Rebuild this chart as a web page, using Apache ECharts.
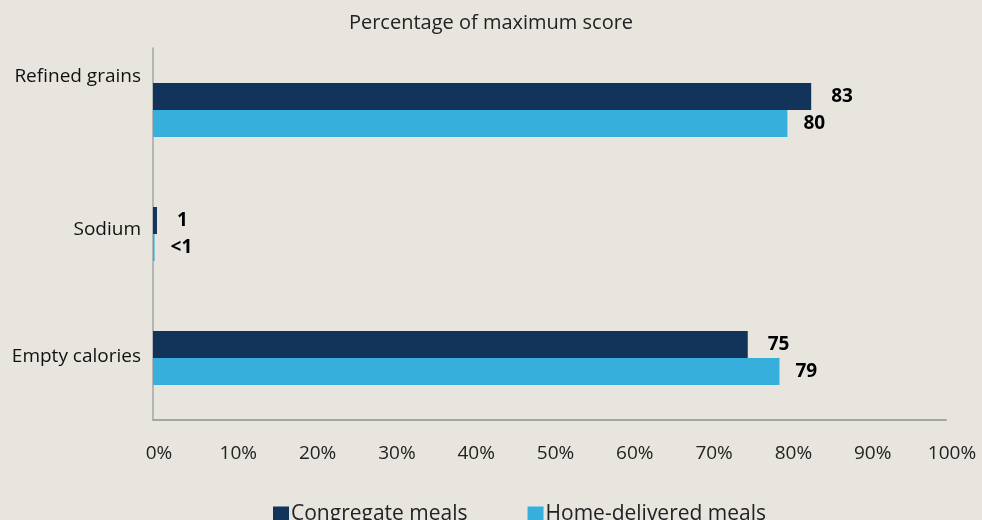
<!DOCTYPE html>
<html>
<head>
<meta charset="utf-8">
<script src="https://cdn.jsdelivr.net/npm/echarts@6/dist/echarts.min.js"></script>
<style>
html,body{margin:0;padding:0;background:#e8e5df;}
#chart{width:982px;height:520px;}
</style>
</head>
<body>
<div id="chart"></div>
<script>
var categories = ['Refined grains', 'Sodium', 'Empty calories'];
var congregate = [83, 0.5, 75];
var homeDelivered = [80, 0.2, 79];
var congregateLabels = ['83', '1', '75'];
var homeLabels = ['80', '<1', '79'];
var xTicks = [0, 10, 20, 30, 40, 50, 60, 70, 80, 90, 100];

var myChart = echarts.init(document.getElementById('chart'));
var font = '"Open Sans", Lato, sans-serif';
// labels sit a little above their bar pair in the original
var labelLift = [66, 8, 2];

var option = {
    backgroundColor: '#e8e5df',
    textStyle: { fontFamily: font },
    title: {
        text: 'Percentage of maximum score',
        left: 'center',
        top: 8,
        textStyle: { fontFamily: font, fontSize: 20, fontWeight: 'normal', color: '#222' }
    },
    legend: {
        left: 268,
        top: 499,
        itemWidth: 16,
        itemHeight: 16,
        itemGap: 60,
        icon: 'rect',
        textStyle: { fontFamily: font, fontSize: 21, color: '#222', padding: [0, 0, 0, -3] },
        data: ['Congregate meals', 'Home-delivered meals']
    },
    grid: { left: 153, right: 36, top: 48, bottom: 100, containLabel: false },
    xAxis: {
        type: 'value',
        min: xTicks[0],
        max: xTicks[xTicks.length - 1],
        interval: 10,
        axisLine: { show: true, lineStyle: { color: '#a5a5a5', width: 2 } },
        axisTick: { show: false },
        splitLine: { show: false },
        axisLabel: {
            formatter: '{value}%',
            margin: 24,
            padding: [0, 0, 0, 12],
            fontFamily: font,
            fontSize: 19,
            color: '#222'
        }
    },
    yAxis: {
        type: 'category',
        inverse: true,
        data: categories,
        axisLine: { show: true, lineStyle: { color: '#a5a5a5', width: 1.5 } },
        axisTick: { show: false },
        axisLabel: {
            margin: 12,
            fontFamily: font,
            fontSize: 19,
            color: '#111',
            formatter: function (v, i) { return '{c' + i + '|' + v + '}'; },
            rich: {
                c0: { fontFamily: font, fontSize: 19, color: '#111', padding: [0, 0, labelLift[0], 0] },
                c1: { fontFamily: font, fontSize: 19, color: '#111', padding: [0, 0, labelLift[1], 0] },
                c2: { fontFamily: font, fontSize: 19, color: '#111', padding: [0, 0, labelLift[2], 0] }
            }
        }
    },
    series: [
        {
            name: 'Congregate meals',
            type: 'bar',
            data: congregate,
            barWidth: 27,
            barGap: '0%',
            itemStyle: { color: '#12345a' },
            label: {
                show: true,
                position: 'right',
                distance: 20,
                fontFamily: font,
                fontSize: 19,
                fontWeight: 'bold',
                color: '#000',
                formatter: function (p) { return congregateLabels[p.dataIndex]; }
            }
        },
        {
            name: 'Home-delivered meals',
            type: 'bar',
            data: homeDelivered,
            barWidth: 27,
            barGap: '0%',
            itemStyle: { color: '#36afdc' },
            label: {
                show: true,
                position: 'right',
                distance: 16,
                fontFamily: font,
                fontSize: 19,
                fontWeight: 'bold',
                color: '#000',
                formatter: function (p) { return homeLabels[p.dataIndex]; }
            }
        }
    ]
};

myChart.setOption(option);
</script>
</body>
</html>
